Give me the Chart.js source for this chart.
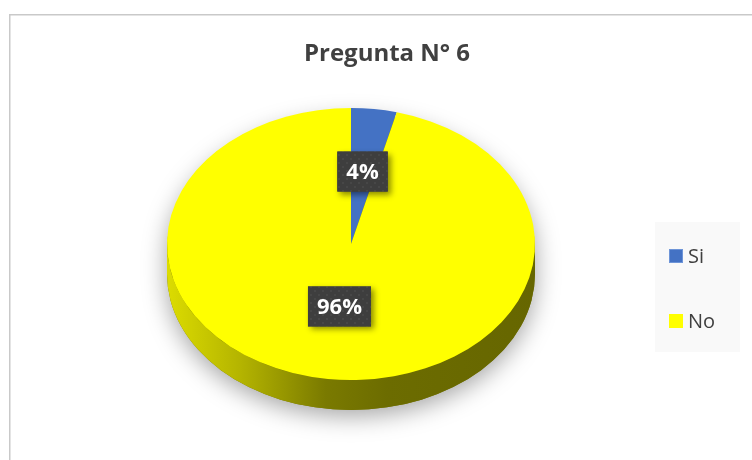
<!DOCTYPE html>
<html>
<head>
<meta charset="utf-8">
<script src="https://cdn.jsdelivr.net/npm/chart.js@4/dist/chart.umd.min.js"></script>
<style>
  html, body { margin: 0; padding: 0; background: #ffffff; }
  #wrap { width: 752px; height: 460px; position: relative; }
</style>
</head>
<body>
<div id="wrap"><canvas id="c" width="752" height="460"></canvas></div>
<script>
// ---- data ----
const chartTitle = 'Pregunta N° 6';
const categories = ['Si', 'No'];
const values = [4, 96];
const valueLabels = ['4%', '96%'];
const sliceColors = ['#4472c4', '#ffff00'];

// ---- styling ----
const SQUASH = 0.739;
const DEPTH = 30;
const LABEL_SHIFT_Y = -5;
const TEXT_DARK = '#404040';

function makePattern(ctx) {
  const pc = document.createElement('canvas');
  pc.width = 8; pc.height = 8;
  const p = pc.getContext('2d');
  p.fillStyle = '#3e3e3e'; p.fillRect(0, 0, 8, 8);
  p.fillStyle = '#474747'; p.fillRect(2, 2, 2, 2); p.fillRect(6, 6, 2, 2);
  return ctx.createPattern(pc, 'repeat');
}

const frame3d = {
  id: 'frame3d',
  beforeDraw(chart) {
    const ctx = chart.ctx;
    ctx.save();
    ctx.fillStyle = '#ffffff';
    ctx.fillRect(0, 0, chart.width, chart.height);
    ctx.strokeStyle = '#c9c9c9';
    ctx.lineWidth = 1.5;
    ctx.strokeRect(9.75, 14.75, 900, 600);
    // title
    ctx.fillStyle = TEXT_DARK;
    ctx.font = 'bold 24px "Open Sans", sans-serif';
    ctx.textAlign = 'center';
    ctx.textBaseline = 'middle';
    ctx.fillText(chartTitle, 387, 54);
    // legend
    const lx = 655, ly = 222, lw = 85, lh = 130;
    ctx.fillStyle = '#f9f9f9';
    ctx.fillRect(lx, ly, lw, lh);
    ctx.font = '20px "Open Sans", sans-serif';
    ctx.textAlign = 'left';
    const rowsY = [256, 321];
    chart.data.labels.forEach((lab, i) => {
      const y = rowsY[i];
      ctx.fillStyle = chart.data.datasets[0].backgroundColor[i];
      ctx.fillRect(669, y - 7, 14, 14);
      if (i === 0) {
        ctx.strokeStyle = '#6e95d8';
        ctx.lineWidth = 1;
        ctx.strokeRect(669.5, y - 6.5, 13, 13);
      }
      ctx.fillStyle = TEXT_DARK;
      ctx.fillText(lab, 688, y + 1);
    });
    ctx.restore();
  },
  beforeDatasetsDraw(chart) {
    const ctx = chart.ctx;
    const meta = chart.getDatasetMeta(0);
    const a0 = meta.data[0];
    const cx = a0.x, cy = a0.y, r = a0.outerRadius, ry = r * SQUASH;
    ctx.save();
    // soft shadow under the pie
    ctx.shadowColor = 'rgba(0,0,0,0.36)';
    ctx.shadowBlur = 24;
    ctx.shadowOffsetY = 6;
    ctx.fillStyle = '#777700';
    ctx.beginPath();
    ctx.ellipse(cx, cy + 6, r, ry, 0, Math.PI, 2 * Math.PI);
    ctx.ellipse(cx, cy + DEPTH, r, ry, 0, 0, Math.PI);
    ctx.closePath();
    ctx.fill();
    ctx.shadowColor = 'transparent';
    ctx.shadowBlur = 0; ctx.shadowOffsetY = 0;
    // side walls
    meta.data.forEach((arc, i) => {
      let s = Math.max(arc.startAngle, 0);
      let e = Math.min(arc.endAngle, Math.PI);
      if (e <= s) return;
      const g = ctx.createLinearGradient(cx - r, 0, cx + r, 0);
      if (i === 1) {
        g.addColorStop(0, '#dcdc00');
        g.addColorStop(0.2, '#b4b400');
        g.addColorStop(0.43, '#7a7a00');
        g.addColorStop(0.6, '#6c6c00');
        g.addColorStop(1, '#666600');
      } else {
        g.addColorStop(0, '#3a5ea0');
        g.addColorStop(1, '#2a4a80');
      }
      ctx.fillStyle = g;
      ctx.beginPath();
      ctx.ellipse(cx, cy, r, ry, 0, s, e);
      ctx.ellipse(cx, cy + DEPTH, r, ry, 0, e, s, true);
      ctx.closePath();
      ctx.fill();
    });
    // squash the top face
    ctx.translate(cx, cy);
    ctx.scale(1, SQUASH);
    ctx.translate(-cx, -cy);
  },
  afterDatasetsDraw(chart) {
    const ctx = chart.ctx;
    ctx.restore();
    const meta = chart.getDatasetMeta(0);
    const pattern = makePattern(ctx);
    ctx.save();
    ctx.font = 'bold 22px "Open Sans", sans-serif';
    ctx.textAlign = 'center';
    ctx.textBaseline = 'middle';
    meta.data.forEach((arc, i) => {
      const p = arc.tooltipPosition();
      const x = p.x;
      const y = arc.y + (p.y - arc.y) * SQUASH + LABEL_SHIFT_Y;
      const txt = valueLabels[i];
      const w = ctx.measureText(txt).width + 18;
      const h = 40;
      ctx.save();
      ctx.shadowColor = 'rgba(0,0,0,0.45)';
      ctx.shadowBlur = 6;
      ctx.shadowOffsetX = 3;
      ctx.shadowOffsetY = 3;
      ctx.fillStyle = '#3e3e3e';
      ctx.fillRect(x - w / 2, y - h / 2, w, h);
      ctx.restore();
      ctx.fillStyle = pattern;
      ctx.fillRect(x - w / 2, y - h / 2, w, h);
      ctx.fillStyle = '#ffffff';
      ctx.fillText(txt, x, y + 1);
    });
    ctx.restore();
  }
};

new Chart(document.getElementById('c'), {
  type: 'pie',
  data: {
    labels: categories,
    datasets: [{
      data: values,
      backgroundColor: sliceColors,
      borderWidth: 0,
      clip: false
    }]
  },
  options: {
    responsive: false,
    animation: false,
    events: [],
    layout: { padding: { left: 167, right: 217, top: 60, bottom: 32 } },
    plugins: {
      legend: { display: false },
      title: { display: false },
      tooltip: { enabled: false }
    }
  },
  plugins: [frame3d]
});
</script>
</body>
</html>
